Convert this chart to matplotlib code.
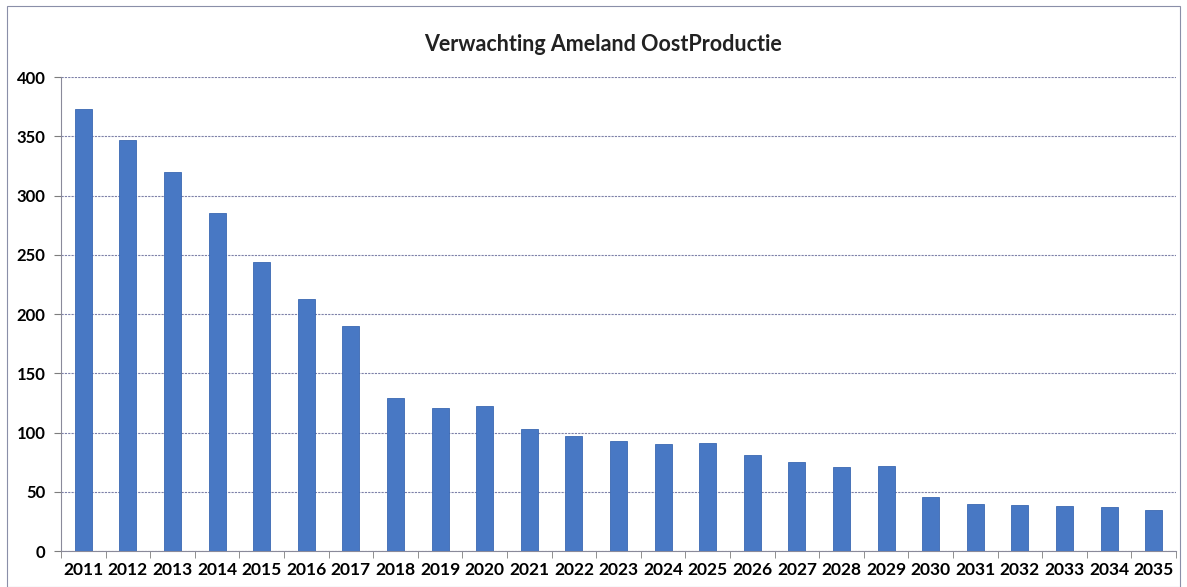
import numpy as np
import matplotlib.pyplot as plt
from matplotlib.patches import Rectangle

plt.rcParams['font.family'] = ['Lato', 'DejaVu Sans']

jaren = [str(j) for j in range(2011, 2036)]
productie = [373, 347, 320, 285, 244, 213, 190, 129, 121, 122, 103, 97, 93, 90, 91,
             81, 75, 71, 72, 46, 40, 39, 38, 37, 35]
y_ticks = [0, 50, 100, 150, 200, 250, 300, 350, 400]

fig = plt.figure(figsize=(11.87, 5.87), dpi=100)
ax = fig.add_axes([0.0514, 0.0613, 0.9393, 0.8075])

# rand om de hele grafiek
fig.patches.append(Rectangle((0.006, 0.0), 0.988, 0.99, transform=fig.transFigure,
                             fill=False, edgecolor='#8a8fa8', linewidth=0.8))

x = np.arange(len(jaren))
ax.bar(x, productie, width=0.38, color='#4878c4', edgecolor='#3a68b2', linewidth=0.6, zorder=3)

ax.set_ylim(0, 400)
ax.set_xlim(-0.5, len(jaren) - 0.5)
ax.set_yticks(y_ticks)
ax.set_yticklabels([str(v) for v in y_ticks], fontsize=12, fontweight='bold')
ax.yaxis.grid(True, color='#7d80a8', linestyle=(0, (2, 1)), linewidth=0.8, zorder=0)

ax.set_xticks(x)
ax.set_xticklabels(jaren, fontsize=12.5, fontweight='bold')
ax.set_xticks(np.arange(-0.5, len(jaren)), minor=True)
ax.tick_params(axis='x', which='major', length=0, pad=8)
ax.tick_params(axis='x', which='minor', length=5, color='#7d7d7d', direction='out')
ax.tick_params(axis='y', length=5, color='#7d7d7d', pad=6)

for s in ['top', 'right']:
    ax.spines[s].set_visible(False)
for s in ['left', 'bottom']:
    ax.spines[s].set_color('#8a8a9a')
    ax.spines[s].set_linewidth(0.8)

fig.text(0.508, 0.925, 'Verwachting Ameland OostProductie', ha='center', va='center',
         fontsize=15.5, fontweight='bold', color='#222222')

fig.savefig('out.png', dpi=100)
